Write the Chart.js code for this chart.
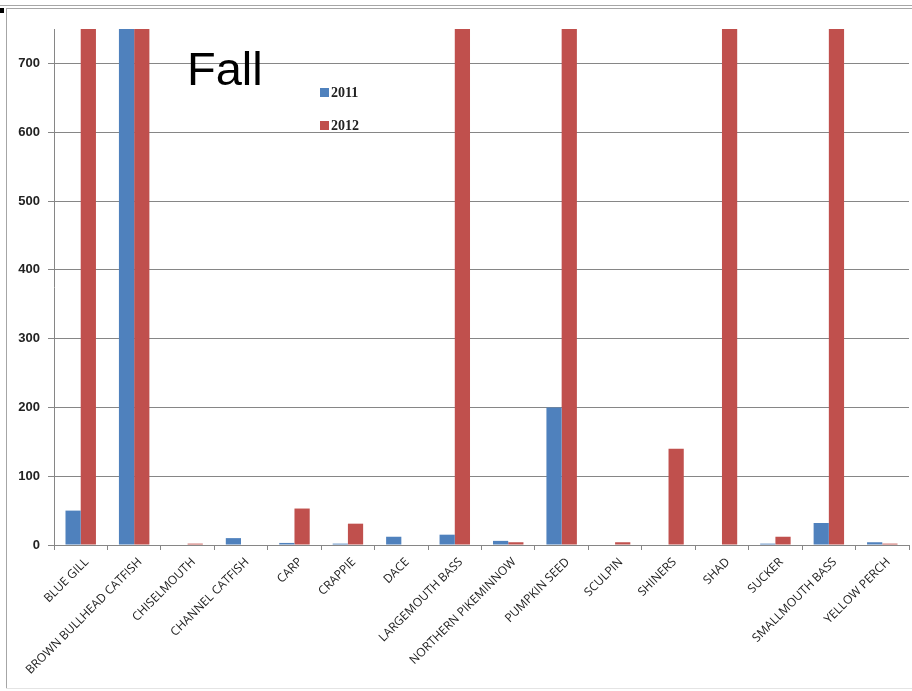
<!DOCTYPE html>
<html>
<head>
<meta charset="utf-8">
<title>Fall</title>
<script src="https://cdn.jsdelivr.net/npm/chart.js@4.4.0/dist/chart.umd.min.js"></script>
<style>
  html, body { margin: 0; padding: 0; background: #fff; }
  #wrap { width: 912px; height: 691px; position: relative; }
</style>
</head>
<body>
<div id="wrap"><canvas id="fishChart" width="912" height="691"></canvas></div>
<script>
// fish counts, fall sampling
var species = ["BLUE GILL", "BROWN BULLHEAD CATFISH", "CHISELMOUTH", "CHANNEL CATFISH", "CARP",
  "CRAPPIE", "DACE", "LARGEMOUTH BASS", "NORTHERN PIKEMINNOW", "PUMPKIN SEED", "SCULPIN",
  "SHINERS", "SHAD", "SUCKER", "SMALLMOUTH BASS", "YELLOW PERCH"];
var counts2011 = [50, 750, 0, 10, 3, 2, 12, 15, 6, 200, 0, 0, 0, 2, 32, 4];
var counts2012 = [750, 750, 2, 0, 53, 31, 0, 750, 4, 750, 4, 140, 750, 12, 750, 2];
var yTicks = [0, 100, 200, 300, 400, 500, 600, 700];
var yMax = 750;

// frame around the chart + "Fall" heading + legend in the plot
var decorations = {
  id: 'decorations',
  beforeDraw: function(chart) {
    var c = chart.ctx;
    c.save();
    c.fillStyle = '#fff';
    c.fillRect(0, 0, chart.width, chart.height);
    c.strokeStyle = '#a6a6a6';
    c.lineWidth = 1;
    c.beginPath();
    c.moveTo(0, 5.5); c.lineTo(chart.width, 5.5);
    c.moveTo(6, 8.5); c.lineTo(chart.width, 8.5);
    c.moveTo(6.5, 9); c.lineTo(6.5, 689);
    c.stroke();
    c.strokeStyle = '#e4e4e4';
    c.beginPath();
    c.moveTo(6, 688.5); c.lineTo(chart.width, 688.5);
    c.stroke();
    c.fillStyle = '#000';
    c.fillRect(0, 8, 4, 5);
    c.restore();
  },
  afterDraw: function(chart) {
    var c = chart.ctx;
    c.save();
    c.fillStyle = '#000';
    c.font = '47px "Liberation Sans", Arial, sans-serif';
    c.textBaseline = 'alphabetic';
    c.fillText('Fall', 187, 85);

    c.font = 'bold 14px "Liberation Serif", serif';
    c.textBaseline = 'middle';
    chart.data.datasets.forEach(function(ds, i) {
      var y = 93 + i * 33;
      c.fillStyle = ds.backgroundColor;
      c.fillRect(320, y - 5, 9, 9);
      c.fillStyle = '#222';
      c.fillText(ds.label, 331, y);
    });
    c.restore();
  }
};

var ctx = document.getElementById("fishChart");
var fishChart = new Chart(ctx, {
  type: 'bar',
  data: {
    labels: species,
    datasets: [{
      label: '2011',
      data: counts2011,
      backgroundColor: '#4F81BD',
      categoryPercentage: 0.57,
      barPercentage: 1.0
    }, {
      label: '2012',
      data: counts2012,
      backgroundColor: '#C0504D',
      categoryPercentage: 0.57,
      barPercentage: 1.0
    }]
  },
  options: {
    responsive: false,
    animation: false,
    layout: { padding: { left: 10, right: 3, top: 29, bottom: 0 } },
    plugins: {
      legend: { display: false },
      title: { display: false },
      tooltip: { enabled: false }
    },
    scales: {
      x: {
        grid: { drawOnChartArea: false, drawTicks: true, tickLength: 5, color: '#868686' },
        border: { color: '#868686' },
        ticks: {
          minRotation: 45,
          maxRotation: 45,
          autoSkip: false,
          padding: 5,
          labelOffset: 6,
          color: '#222',
          font: { family: '"Open Sans", sans-serif', size: 12 }
        },
        afterFit: function(scale) { scale.height = 146; }
      },
      y: {
        min: 0,
        max: yMax,
        grid: { color: '#868686', tickLength: 6 },
        border: { color: '#868686' },
        afterBuildTicks: function(scale) {
          scale.ticks = yTicks.map(function(v) { return { value: v }; });
        },
        ticks: {
          padding: 8,
          color: '#222',
          font: { family: '"Liberation Sans", sans-serif', size: 13, weight: 'bold' }
        },
        afterFit: function(scale) { scale.width = 44; }
      }
    }
  },
  plugins: [decorations]
});
</script>
</body>
</html>
